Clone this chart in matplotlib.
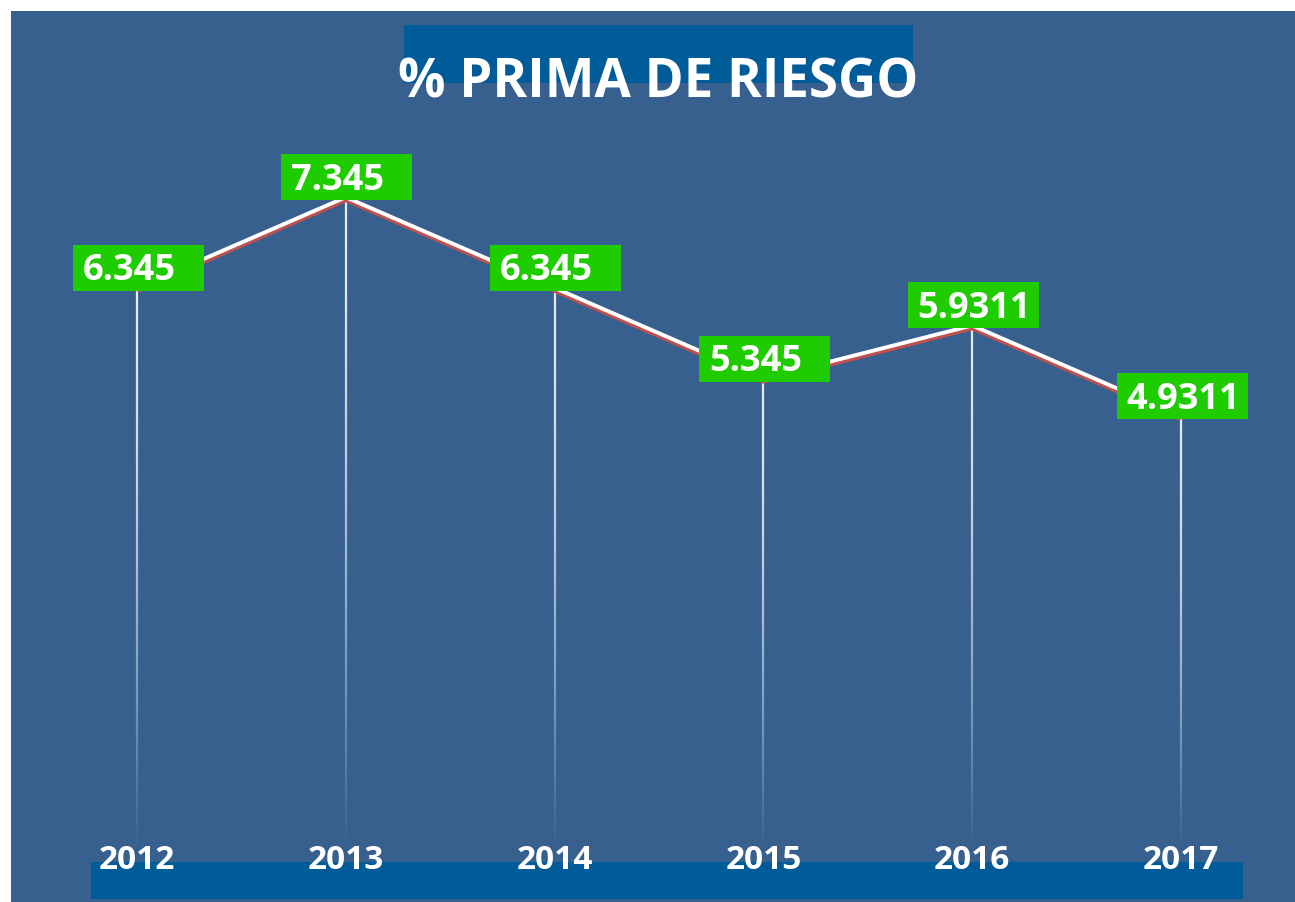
import matplotlib
matplotlib.use('Agg')
import matplotlib.pyplot as plt
from matplotlib.patches import Rectangle
from matplotlib.collections import LineCollection
import matplotlib.transforms as mtransforms
import numpy as np

years = ['2012', '2013', '2014', '2015', '2016', '2017']
values = [6.345, 7.345, 6.345, 5.345, 5.9311, 4.9311]
labels = ['6.345', '7.345', '6.345', '5.345', '5.9311', '4.9311']
title = '% PRIMA DE RIESGO'

W, H = 1295, 902
BG = '#37608F'
BANNER = '#005C99'
GREEN = '#1ECC00'
RED = '#C0504D'
FONT = ['Open Sans', 'DejaVu Sans']

fig = plt.figure(figsize=(W / 100, H / 100), dpi=100)
fig.patch.set_facecolor('white')

def fig_rect(x0, y0, x1, y1, color, z):
    # pixel coords from top-left
    fig.patches.append(Rectangle((x0 / W, 1 - y1 / H), (x1 - x0) / W, (y1 - y0) / H,
                                 transform=fig.transFigure, facecolor=color,
                                 edgecolor='none', zorder=z))

fig_rect(11, 11, W, H, BG, 0)
fig_rect(404, 25, 913, 83, BANNER, 1)
fig_rect(91, 862, 1243, 899, BANNER, 1)

ax = fig.add_axes([0, 0, 1, 1])
ax.set_zorder(5)
ax.set_facecolor('none')
ax.axis('off')
PX_X, PX_Y = 208.8, 90.7
x0_px, ref_y_px = 137.0, 197.2
xmin = -x0_px / PX_X
xmax = (W - x0_px) / PX_X
ytop = values[1] + ref_y_px / PX_Y
ybot = values[1] - (H - ref_y_px) / PX_Y
ax.set_xlim(xmin, xmax)
ax.set_ylim(ybot, ytop)

def yv(px):
    return ytop - px / PX_Y

x = np.arange(len(values))

# vertical fading lines
segs, cols = [], []
yend = yv(848)
for xi, v in zip(x, values):
    ys = np.linspace(v, yend, 120)
    for k in range(len(ys) - 1):
        t = k / (len(ys) - 1)
        a = max(0.0, 1 - t ** 1.6)
        segs.append([(xi, ys[k]), (xi, ys[k + 1])])
        cols.append((0.90, 0.92, 0.97, a))
ax.add_collection(LineCollection(segs, colors=cols, linewidths=1.6, zorder=2))

# line with red shadow
off = mtransforms.ScaledTranslation(0, -2.6 / 100, fig.dpi_scale_trans)
ax.plot(x, values, color=RED, lw=3.4, transform=ax.transData + off, zorder=3,
        solid_capstyle='butt')
ax.plot(x, values, color='white', lw=2.8, zorder=4, solid_capstyle='butt')

# label boxes
bw, bh = 131 / PX_X, 46 / PX_Y
for xi, v, lab in zip(x, values, labels):
    left = xi - 64.5 / PX_X
    bottom = v - 3 / PX_Y
    ax.add_patch(Rectangle((left, bottom), bw, bh, facecolor=GREEN, edgecolor='none', zorder=5))
    ax.text(left + 10 / PX_X, bottom + 10.5 / PX_Y, lab, color='white', fontsize=26,
            fontweight='bold', family=FONT, ha='left', va='baseline', zorder=6)

# x labels
for xi, yr in zip(x, years):
    ax.text(xi, yv(869), yr, color='white', fontsize=24, fontweight='bold',
            family=FONT, ha='center', va='baseline', zorder=6)

# title
fig.text(658 / W, 1 - 97 / H, title, color='white', fontsize=38, fontweight='bold',
         family=FONT, ha='center', va='baseline', zorder=6)

fig.savefig('out.png', dpi=100, facecolor=fig.get_facecolor())
